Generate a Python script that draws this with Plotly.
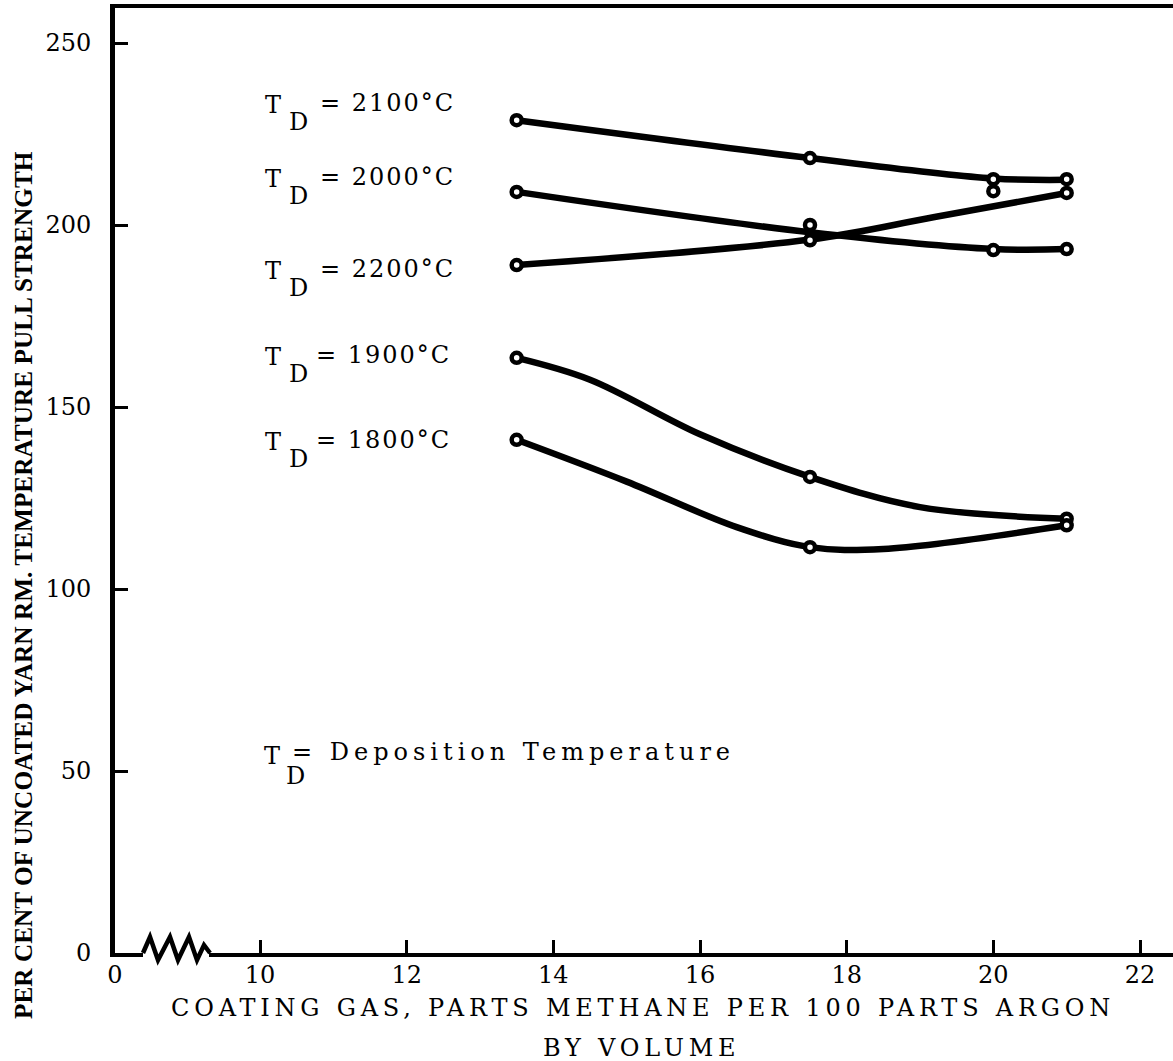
import plotly.graph_objects as go

# measured points: x = parts methane per 100 parts argon, y = % of uncoated yarn RT pull strength
t2100_x = [13.5, 17.5, 20.0, 21.0]
t2100_y = [228.8, 218.4, 212.6, 212.6]
t2000_x = [13.5, 17.5, 20.0, 21.0]
t2000_y = [209.1, 200.0, 193.1, 193.4]
t2200_x = [13.5, 17.5, 20.0, 21.0]
t2200_y = [189.0, 195.8, 209.3, 208.8]
t1900_x = [13.5, 17.5, 21.0]
t1900_y = [163.5, 130.8, 119.3]
t1800_x = [13.5, 17.5, 21.0]
t1800_y = [141.0, 111.5, 117.5]

# hand-faired curves as drawn through the points
fit2100_x = [13.5, 17.5, 20.0, 21.0]
fit2100_y = [228.8, 218.4, 212.8, 212.4]
fit2000_x = [13.5, 17.5, 20.0, 21.0]
fit2000_y = [209.1, 198.0, 193.4, 193.4]
fit2200_x = [13.5, 17.5, 19.2, 21.0]
fit2200_y = [189.0, 196.0, 202.2, 208.8]
fit1900_x = [13.5, 14.5, 16.0, 17.5, 19.0, 21.0]
fit1900_y = [163.5, 157.5, 142.5, 130.8, 122.5, 119.3]
fit1800_x = [13.5, 15.0, 16.5, 17.5, 18.5, 21.0]
fit1800_y = [141.0, 129.5, 117.0, 111.5, 111.0, 117.5]

x_ticks = [10, 12, 14, 16, 18, 20, 22]
y_ticks = [0, 50, 100, 150, 200, 250]

W, H = 1173, 1061
L, R, T, B = 115, 0, 8, 108
PXX = 73.333   # pixels per x unit
PXY = 3.64     # pixels per y unit
X0 = 10 - (260 - L) / PXX
X1 = X0 + (W - L - R) / PXX
Y0 = 0
Y1 = (H - B - T) / PXY


def xd(p):  # pixel -> data x
    return X0 + (p - L) / PXX


def yd(p):  # pixel -> data y
    return (H - B - p) / PXY


def xp(p):  # pixel -> paper x
    return (p - L) / (W - L - R)


def yp(p):  # pixel -> paper y
    return (H - B - p) / (H - B - T)


SERIF = "DejaVu Serif"

fig = go.Figure()

curves = [(fit2100_x, fit2100_y), (fit2000_x, fit2000_y), (fit2200_x, fit2200_y),
          (fit1900_x, fit1900_y), (fit1800_x, fit1800_y)]
points = [(t2100_x, t2100_y), (t2000_x, t2000_y), (t2200_x, t2200_y),
          (t1900_x, t1900_y), (t1800_x, t1800_y)]

for cx, cy in curves:
    fig.add_trace(go.Scatter(x=cx, y=cy, mode="lines",
                             line=dict(color="black", width=6.5, shape="spline", smoothing=1.0),
                             hoverinfo="skip"))
for px_, py_ in points:
    fig.add_trace(go.Scatter(x=px_, y=py_, mode="markers",
                             marker=dict(symbol="circle", size=10, color="white",
                                         line=dict(color="black", width=4.5))))

ls = "letter-spacing:2px"
labels = [
    ("= 2100°C", 105, 318),
    ("= 2000°C", 179, 318),
    ("= 2200°C", 271, 318),
    ("= 1900°C", 357, 314),
    ("= 1800°C", 442, 314),
]
ann = []
for txt, yc, xeq in labels:
    ann.append(dict(x=xd(263), y=yd(yc), text="T", xanchor="left", yanchor="middle"))
    ann.append(dict(x=xd(287), y=yd(yc + 17), text="D", xanchor="left", yanchor="middle"))
    ann.append(dict(x=xd(xeq), y=yd(yc - 2), text=f'<span style="{ls}">{txt}</span>',
                    xanchor="left", yanchor="middle"))
ann.append(dict(x=xd(262), y=yd(756), text="T", xanchor="left", yanchor="middle"))
ann.append(dict(x=xd(284), y=yd(776), text="D", xanchor="left", yanchor="middle"))
ann.append(dict(x=xd(290), y=yd(752), text='<span style="letter-spacing:5px">= Deposition Temperature</span>',
                xanchor="left", yanchor="middle"))
for a in ann:
    a.update(xref="x", yref="y", showarrow=False, font=dict(family=SERIF, size=24, color="black"))

ann.append(dict(x=xp(643), y=yp(1008), xref="paper", yref="paper", showarrow=False,
                text='<span style="letter-spacing:4.8px">COATING GAS, PARTS METHANE PER 100 PARTS ARGON</span>',
                font=dict(family=SERIF, size=24, color="black"), xanchor="center", yanchor="middle"))
ann.append(dict(x=xp(641), y=yp(1048), xref="paper", yref="paper", showarrow=False,
                text='<span style="letter-spacing:4.8px">BY VOLUME</span>',
                font=dict(family=SERIF, size=24, color="black"), xanchor="center", yanchor="middle"))
ann.append(dict(x=xp(23), y=yp(585), xref="paper", yref="paper", showarrow=False, textangle=-90,
                text="PER CENT OF UNCOATED YARN RM. TEMPERATURE PULL STRENGTH",
                font=dict(family="Liberation Serif", size=25.3, color="black", weight="bold"),
                xanchor="center", yanchor="middle"))

# broken-axis zigzag between 0 and 10
zz = [(143, 953), (150, 937), (158, 960), (170, 937), (178, 960), (189, 937), (197, 960), (204, 945), (210, 953)]
path = "M " + " L ".join(f"{xp(a):.5f},{yp(b):.5f}" for a, b in zz)
shapes = [
    dict(type="rect", xref="paper", yref="paper", x0=xp(143), x1=xp(209), y0=yp(949), y1=yp(959),
         fillcolor="white", line=dict(width=0), layer="above"),
    dict(type="path", xref="paper", yref="paper", path=path, line=dict(color="black", width=4.5),
         layer="above"),
]

fig.update_layout(
    width=W, height=H,
    margin=dict(l=L, r=R, t=T, b=B),
    paper_bgcolor="white", plot_bgcolor="white",
    showlegend=False,
    annotations=ann,
    shapes=shapes,
    xaxis=dict(range=[X0, X1], tickvals=[X0] + x_ticks, ticktext=["0"] + [str(v) for v in x_ticks],
               showgrid=False, zeroline=False, showline=True, linecolor="black", linewidth=4,
               mirror=True, ticks="inside", ticklen=13, tickwidth=3, tickcolor="black",
               ticklabelstandoff=-3,
               tickfont=dict(family=SERIF, size=24, color="black")),
    yaxis=dict(range=[Y0, Y1], tickvals=y_ticks, showgrid=False, zeroline=False,
               showline=True, linecolor="black", linewidth=5, ticks="inside", ticklen=13,
               tickwidth=3, tickcolor="black", ticklabelstandoff=14,
               tickfont=dict(family=SERIF, size=24, color="black")),
)

fig.write_html("out.html", config={"displayModeBar": False},
               post_script="document.body.style.margin='0px';")
